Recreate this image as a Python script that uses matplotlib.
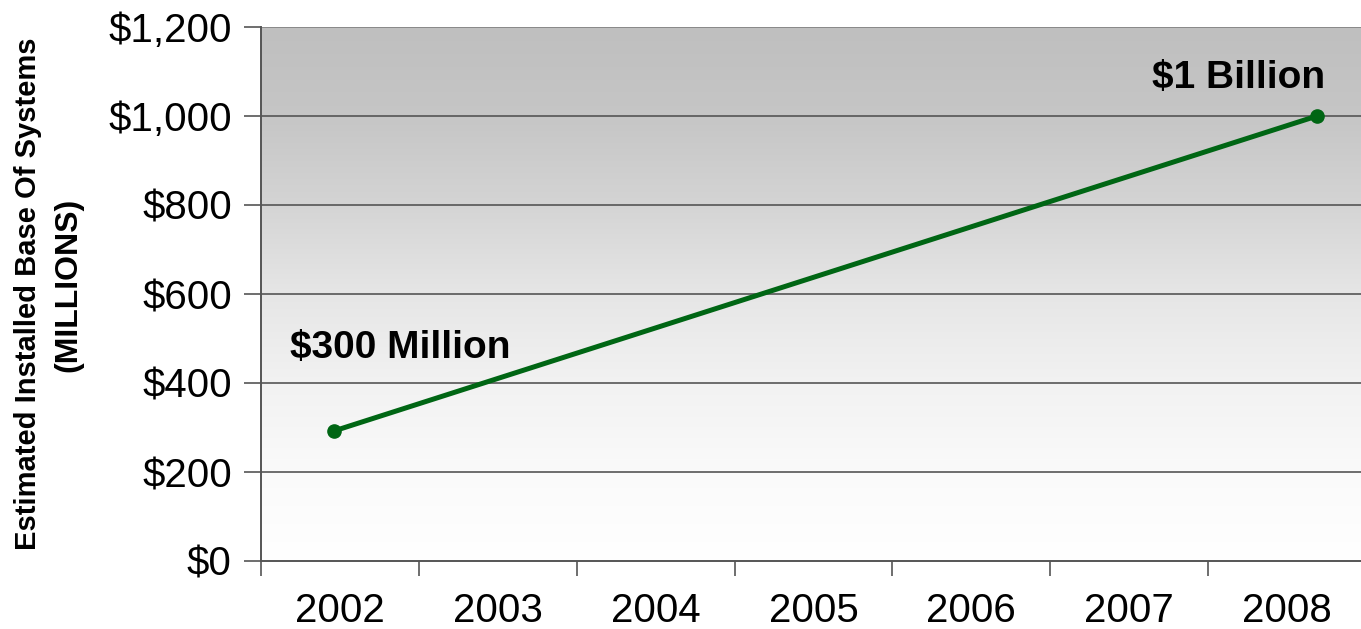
import numpy as np
import matplotlib
matplotlib.use("Agg")
import matplotlib.pyplot as plt
from matplotlib.colors import LinearSegmentedColormap

# ---- data ----
categories = ["2002", "2003", "2004", "2005", "2006", "2007", "2008"]
line_positions = [-0.04, 6.19]          # where the drawn line starts/ends (category units)
line_values = [292, 1000]               # $ millions
yticks = [0, 200, 400, 600, 800, 1000, 1200]
ytick_labels = ["$0", "$200", "$400", "$600", "$800", "$1,000", "$1,200"]
annotations = ["$300 Million", "$1 Billion"]

plt.rcParams['font.family'] = ['Liberation Sans', 'DejaVu Sans']

W, H = 1361, 629
fig = plt.figure(figsize=(W / 100, H / 100), dpi=100)
ax = fig.add_axes([261 / W, 1 - 561 / H, (1366 - 261) / W, (561 - 27) / H])

ncat = len(categories)
ax.set_xlim(-0.5, ncat - 0.5)
ax.set_ylim(0, 1200)

# gradient background
cmap = LinearSegmentedColormap.from_list(
    "bg", [(0.0, "#ffffff"), (0.17, "#fafafa"), (0.33, "#f2f2f2"), (0.5, "#e6e6e6"),
           (0.67, "#d4d4d4"), (0.83, "#c6c6c6"), (1.0, "#bfbfbf")])
grad = np.linspace(0, 1, 256).reshape(-1, 1)
ax.imshow(grad, extent=[-0.5, ncat - 0.5, 0, 1200], origin="lower", aspect="auto",
          cmap=cmap, zorder=0)

# gridlines
for y in yticks[1:]:
    ax.axhline(y, color="#555555" if y < 1200 else "#808080", lw=1.2, zorder=1)

# line
ax.plot(line_positions, line_values, color="#006614", lw=3.6, marker="o",
        markersize=9.5, solid_capstyle="round", zorder=3)

# annotations
ax.text(0.38, 479, annotations[0], fontsize=28, fontweight="bold", ha="center",
        va="center", zorder=4)
ax.text(5.69, 1086, annotations[1], fontsize=28, fontweight="bold", ha="center",
        va="center", zorder=4)

# axes styling
ax.set_yticks(yticks)
ax.set_yticklabels(ytick_labels, fontsize=29)
ax.set_xticks(np.arange(ncat))
ax.set_xticklabels(categories, fontsize=29)
ax.set_xticks(np.arange(ncat + 1) - 0.5, minor=True)
ax.tick_params(axis="x", which="major", length=0, pad=22)
ax.tick_params(axis="x", which="minor", length=11, width=1.2, color="#555555",
               direction="out")
ax.tick_params(axis="y", length=12, width=1.2, color="#555555", direction="out", pad=9)

for s in ["top", "right"]:
    ax.spines[s].set_visible(False)
for s in ["left", "bottom"]:
    ax.spines[s].set_color("#555555")
    ax.spines[s].set_linewidth(1.4)
    ax.spines[s].set_zorder(5)

# y label (two lines, bold)
fig.text(28 / W, 1 - 294 / H, "Estimated Installed Base Of Systems", rotation=90,
         ha="center", va="center", fontsize=21, fontweight="bold")
fig.text(68 / W, 1 - 285 / H, "(MILLIONS)", rotation=90,
         ha="center", va="center", fontsize=23, fontweight="bold")

fig.savefig("out.png", dpi=100)
